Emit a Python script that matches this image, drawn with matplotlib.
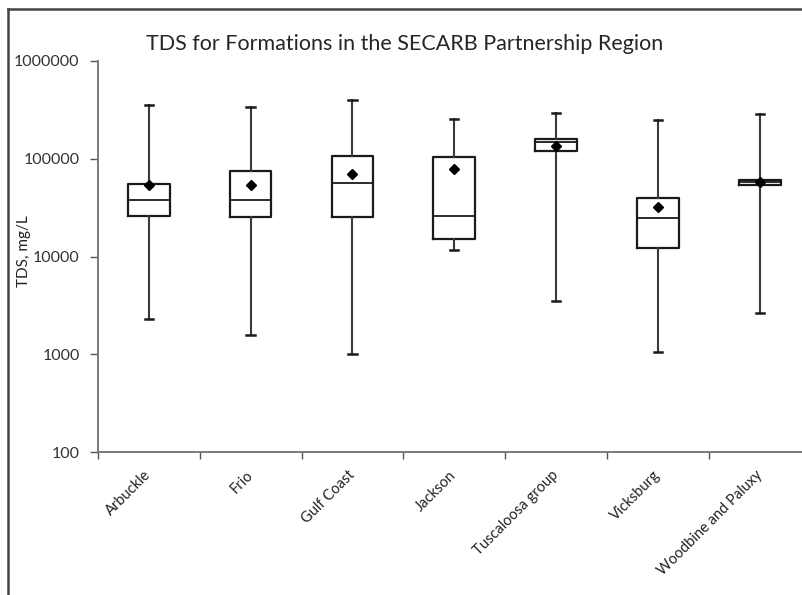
import matplotlib
matplotlib.use('Agg')

import matplotlib.pyplot as plt
from matplotlib.lines import Line2D
from matplotlib.ticker import FixedLocator, FuncFormatter, NullLocator

plt.rcParams['font.family'] = ['Lato', 'DejaVu Sans']

# ---- TDS summary per formation (mg/L) ----
formations = ['Arbuckle', 'Frio', 'Gulf Coast', 'Jackson',
              'Tuscaloosa group', 'Vicksburg', 'Woodbine and Paluxy']
tds_min = [2290, 1570, 1000, 11600, 3500, 1060, 2640]
tds_q1 = [26000, 25600, 25400, 15000, 121000, 12400, 54000]
tds_median = [38200, 37700, 56200, 26200, 149000, 24800, 57500]
tds_q3 = [55300, 75700, 108000, 104000, 161000, 39700, 60800]
tds_max = [354000, 335000, 398000, 258000, 297000, 250000, 290000]
tds_mean = [53700, 53700, 70500, 79400, 135000, 32400, 58600]

W, H = 802, 595
fig = plt.figure(figsize=(W / 100, H / 100), dpi=100)

# axes run slightly past the right edge of the canvas
ax = fig.add_axes([97.7 / W, 1 - 452.3 / H, (811 - 97.7) / W, (452.3 - 61) / H])

stats = []
for i, name in enumerate(formations):
    stats.append(dict(label=name, whislo=tds_min[i], q1=tds_q1[i], med=tds_median[i],
                      q3=tds_q3[i], whishi=tds_max[i], mean=tds_mean[i], fliers=[]))

box_col = '#1a1a1a'
ax.bxp(stats, positions=range(len(formations)), widths=0.41, showmeans=True,
       showfliers=False,
       boxprops=dict(color=box_col, linewidth=1.6),
       medianprops=dict(color=box_col, linewidth=1.3),
       whiskerprops=dict(color='#3a3a3a', linewidth=1.5),
       capprops=dict(color=box_col, linewidth=1.8),
       capwidths=0.08,
       meanprops=dict(marker='D', markerfacecolor='black', markeredgecolor='black',
                      markersize=5.5))

ax.set_yscale('log')
ax.set_ylim(100, 1000000)
ax.set_xlim(-0.5, 6.5)
ax.yaxis.set_major_locator(FixedLocator([100, 1000, 10000, 100000, 1000000]))
ax.yaxis.set_minor_locator(NullLocator())
ax.yaxis.set_major_formatter(FuncFormatter(lambda v, p: f'{int(round(v))}'))

# category ticks sit on the boundaries between boxes
ax.xaxis.set_major_locator(FixedLocator([i - 0.5 for i in range(len(formations) + 1)]))
ax.xaxis.set_minor_locator(FixedLocator(list(range(len(formations)))))
ax.set_xticklabels([])
ax.set_xticklabels(formations, minor=True)
ax.tick_params(axis='x', which='major', length=5, width=1, color='#555555', direction='out')
ax.tick_params(axis='x', which='minor', length=0, pad=15, labelsize=10.5, labelcolor='#222222')
for lbl in ax.get_xticklabels(minor=True):
    lbl.set_rotation(45)
    lbl.set_ha('right')
    lbl.set_va('center')
    lbl.set_rotation_mode('anchor')

ax.tick_params(axis='y', length=6, width=1, color='#555555', pad=7,
               labelsize=11.5, labelcolor='#333333')

for side in ['top', 'right']:
    ax.spines[side].set_visible(False)
for side in ['left', 'bottom']:
    ax.spines[side].set_color('#7a7a7a')
    ax.spines[side].set_linewidth(1.4)

ax.set_ylabel('TDS, mg/L', fontsize=11, color='#222222')
ax.yaxis.set_label_coords(-0.0935, 0.514)

fig.text(405 / W, 1 - 44 / H, 'TDS for Formations in the SECARB Partnership Region',
         ha='center', va='center', fontsize=15.5, color='#262626')

# chart frame (only left and top edges fall inside the canvas)
fx, fy = 7.5 / W, 1 - 8.5 / H
fig.add_artist(Line2D([fx, fx], [0, fy], transform=fig.transFigure, color='#444444', linewidth=1.8))
fig.add_artist(Line2D([fx, 1], [fy, fy], transform=fig.transFigure, color='#444444', linewidth=1.8))

fig.savefig('out.png', dpi=100)
